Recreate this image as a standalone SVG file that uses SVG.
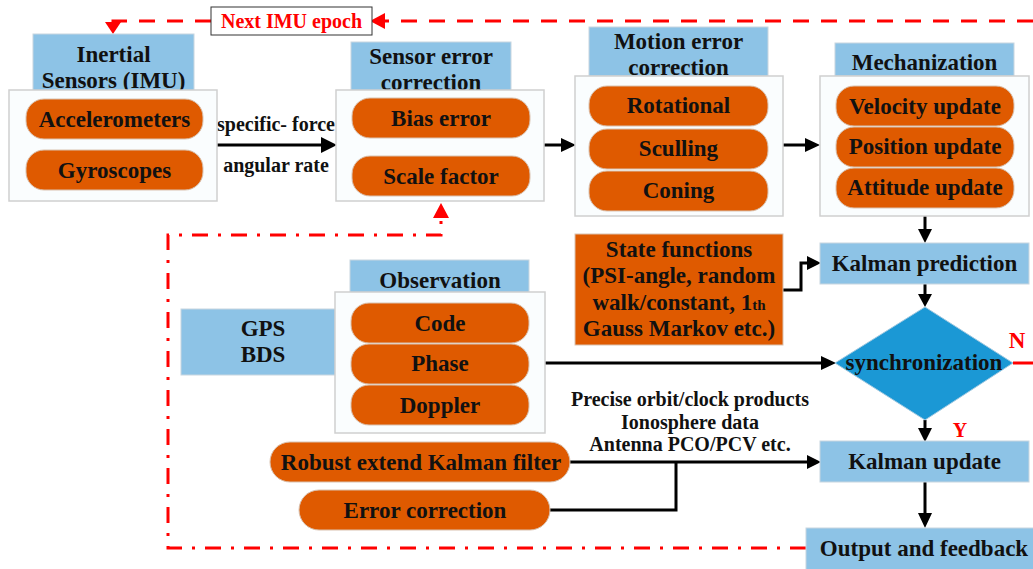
<svg xmlns="http://www.w3.org/2000/svg" width="1033" height="569" viewBox="0 0 1033 569">
  <style>
    text { font-family: "Liberation Serif", "Times New Roman", serif; font-weight: bold; fill: #111; text-anchor: middle; }
    .t { font-size: 23px; }
    .s { font-size: 20px; }
    .red { fill: #FF0000; }
    .hdr { fill: #8DC3E6; stroke: #C8D6E0; stroke-width: 1; }
    .box { fill: #FAFDFE; stroke: #CFCFCF; stroke-width: 1.5; }
    .pill { fill: #DF5A00; stroke: #D9C2B0; stroke-width: 1; }
    .wire { fill: none; stroke: #000; stroke-width: 3; }
    .dash { fill: none; stroke: #FF0000; stroke-width: 3; stroke-dasharray: 16 12; }
    .dashdot { fill: none; stroke: #FF0000; stroke-width: 3; stroke-dasharray: 16 10 3 10; }
  </style>

  <!-- connectors -->
  <g id="connectors">
    <!-- next epoch feedback loop -->
    <path class="dash" d="M1033,21 H385"/>
    <path d="M385,13 L370,21 L385,29 Z" fill="#FF0000"/>
    <path class="dash" d="M211,21 H113 V26"/>
    <path d="M105,22 L113,34 L121,22 Z" fill="#FF0000"/>
    <!-- error feedback loop -->
    <path class="dashdot" d="M806,548 H168 V235 H441 V216"/>
    <path d="M433,218 L441,203 L449,218 Z" fill="#FF0000"/>
    <!-- main flow -->
    <line class="wire" x1="217" y1="145" x2="322" y2="145"/>
    <path d="M321,137 L337,145 L321,153 Z"/>
    <line class="wire" x1="544" y1="145" x2="562" y2="145"/>
    <path d="M561,138 L576,145 L561,152 Z"/>
    <line class="wire" x1="783" y1="145" x2="806" y2="145"/>
    <path d="M805,138 L820,145 L805,152 Z"/>
    <line class="wire" x1="925" y1="216" x2="925" y2="230"/>
    <path d="M918,229 L925,243 L932,229 Z"/>
    <path class="wire" d="M783,290 H801 V263 H808"/>
    <path d="M807,256 L821,263 L807,270 Z"/>
    <line class="wire" x1="925" y1="284" x2="925" y2="295"/>
    <path d="M918,294 L925,307 L932,294 Z"/>
    <line class="wire" x1="545" y1="363" x2="822" y2="363"/>
    <path d="M821,356 L836,363 L821,370 Z"/>
    <line class="wire" x1="925" y1="420" x2="925" y2="429"/>
    <path d="M918,428 L925,442 L932,428 Z"/>
    <line class="wire" x1="570" y1="462" x2="808" y2="462"/>
    <path d="M807,455 L821,462 L807,469 Z"/>
    <path class="wire" d="M550,510 H676 V462"/>
    <line class="wire" x1="925" y1="482" x2="925" y2="514"/>
    <path d="M918,513 L925,528 L932,513 Z"/>
    <line x1="1013" y1="363" x2="1033" y2="363" stroke="#FF0000" stroke-width="3"/>
    <!-- connector labels -->
    <text class="s" x="276" y="131">specific- force</text>
    <text class="s" x="276" y="172">angular rate</text>
    <text class="s" x="690" y="406">Precise orbit/clock products</text>
    <text class="s" x="690" y="429">Ionosphere data</text>
    <text class="s" x="690" y="451">Antenna PCO/PCV etc.</text>
    <text class="t red" x="1017" y="348">N</text>
    <text class="s red" x="960" y="437">Y</text>
  </g>

  <g id="next-epoch">
    <rect x="211" y="7" width="161" height="28" fill="#FFFFFF" stroke="#333" stroke-width="1"/>
    <text class="s red" x="291.5" y="28">Next IMU epoch</text>
  </g>

  <g id="imu">
    <rect class="hdr" x="33" y="34" width="161" height="58"/>
    <text class="t" x="113.5" y="62">Inertial</text>
    <text class="t" x="113.5" y="88">Sensors (IMU)</text>
    <rect class="box" x="9" y="90" width="208" height="111"/>
    <rect class="pill" x="26" y="99" width="177" height="40" rx="18"/>
    <text class="t" x="114.5" y="127">Accelerometers</text>
    <rect class="pill" x="26" y="150" width="177" height="40" rx="18"/>
    <text class="t" x="114.5" y="178">Gyroscopes</text>
  </g>

  <g id="sensor-error">
    <rect class="hdr" x="351" y="42" width="160" height="50"/>
    <text class="t" x="431" y="64">Sensor error</text>
    <text class="t" x="431" y="90">correction</text>
    <rect class="box" x="336" y="90" width="208" height="111"/>
    <rect class="pill" x="352" y="98" width="178" height="40" rx="18"/>
    <text class="t" x="441" y="126">Bias error</text>
    <rect class="pill" x="352" y="156" width="178" height="40" rx="18"/>
    <text class="t" x="441" y="184">Scale factor</text>
  </g>

  <g id="motion-error">
    <rect class="hdr" x="589" y="27" width="179" height="49"/>
    <text class="t" x="678.5" y="49">Motion error</text>
    <text class="t" x="678.5" y="75">correction</text>
    <rect class="box" x="575" y="76" width="208" height="140"/>
    <rect class="pill" x="589" y="86" width="179" height="40" rx="18"/>
    <text class="t" x="678.5" y="113">Rotational</text>
    <rect class="pill" x="589" y="129" width="179" height="40" rx="18"/>
    <text class="t" x="678.5" y="156">Sculling</text>
    <rect class="pill" x="589" y="171" width="179" height="40" rx="18"/>
    <text class="t" x="678.5" y="198">Coning</text>
  </g>

  <g id="mechanization">
    <rect class="hdr" x="835" y="43" width="179" height="33"/>
    <text class="t" x="924.5" y="70">Mechanization</text>
    <rect class="box" x="820" y="76" width="209" height="140"/>
    <rect class="pill" x="836" y="86" width="178" height="40" rx="18"/>
    <text class="t" x="925" y="114">Velocity update</text>
    <rect class="pill" x="836" y="127" width="178" height="40" rx="18"/>
    <text class="t" x="925" y="154">Position update</text>
    <rect class="pill" x="836" y="168" width="178" height="40" rx="18"/>
    <text class="t" x="925" y="195">Attitude update</text>
  </g>

  <g id="state-functions">
    <rect x="575" y="234" width="208" height="111" fill="#DF5A00" stroke="#D9C2B0" stroke-width="1"/>
    <text class="t" x="679" y="257">State functions</text>
    <text class="t" x="679" y="283">(PSI-angle, random</text>
    <text class="t" x="679" y="310">walk/constant, 1<tspan font-size="15px">th</tspan></text>
    <text class="t" x="679" y="336">Gauss Markov etc.)</text>
  </g>

  <g id="kalman-prediction">
    <rect class="hdr" x="820" y="243" width="209" height="41"/>
    <text class="t" x="924.5" y="271">Kalman prediction</text>
  </g>

  <g id="synchronization">
    <path d="M925,307 L1013,363 L925,420 L835,363 Z" fill="#1B98D5" stroke="#9FC8E0" stroke-width="1"/>
    <text class="t" x="924" y="370">synchronization</text>
  </g>

  <g id="kalman-update">
    <rect class="hdr" x="820" y="441" width="209" height="41"/>
    <text class="t" x="924.5" y="469">Kalman update</text>
  </g>

  <g id="output">
    <rect class="hdr" x="806" y="528" width="230" height="44"/>
    <text class="t" x="924" y="556">Output and feedback</text>
  </g>

  <g id="gnss">
    <rect class="hdr" x="181" y="309" width="156" height="66"/>
    <text class="t" x="263" y="336">GPS</text>
    <text class="t" x="263" y="362">BDS</text>
  </g>

  <g id="observation">
    <rect class="hdr" x="350" y="260" width="179" height="33"/>
    <text class="t" x="440" y="288">Observation</text>
    <rect class="box" x="335" y="292" width="210" height="141"/>
    <rect class="pill" x="351" y="303" width="178" height="40" rx="18"/>
    <text class="t" x="440" y="331">Code</text>
    <rect class="pill" x="351" y="344" width="178" height="40" rx="18"/>
    <text class="t" x="440" y="371">Phase</text>
    <rect class="pill" x="351" y="385" width="178" height="40" rx="18"/>
    <text class="t" x="440" y="413">Doppler</text>
  </g>

  <g id="robust-ekf">
    <rect class="pill" x="270" y="442" width="300" height="40" rx="20"/>
    <text class="t" x="421" y="470">Robust extend Kalman filter</text>
  </g>

  <g id="error-correction">
    <rect class="pill" x="299" y="490" width="251" height="40" rx="20"/>
    <text class="t" x="425" y="518">Error correction</text>
  </g>
</svg>
